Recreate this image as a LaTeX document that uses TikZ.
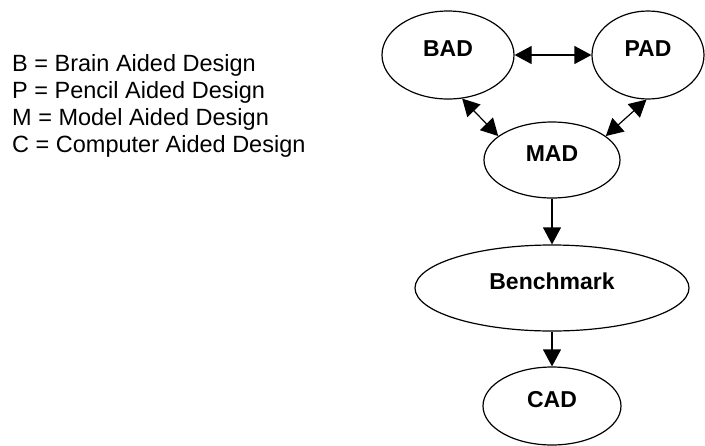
\documentclass[tikz,border=0pt]{standalone}
\usepackage{fontspec}
\setmainfont{Liberation Sans}
\usepackage{tikz}
\usetikzlibrary{shapes.geometric}
\usetikzlibrary{arrows.meta}

\begin{document}
\begin{tikzpicture}[x=1pt,y=-1pt,
	oval/.style={draw,ellipse,line width=1.2pt,inner sep=0pt,text height=17pt,text depth=15pt,font=\fontsize{23}{27}\selectfont\bfseries},
	legend/.style={anchor=west,inner sep=0pt,font=\fontsize{23.5}{27}\selectfont},
	>={Triangle[length=17pt,width=18pt]}]
	\useasboundingbox (0,0) rectangle (705,445);

	\node[oval,minimum width=132,minimum height=88] at (448,55) (bad) {BAD};
	\node[oval,minimum width=112,minimum height=88] at (648,55) (pad) {PAD};
	\node[oval,minimum width=136,minimum height=76] at (552,160) (mad) {MAD};
	\node[oval,minimum width=274,minimum height=86] at (552,288) (bench) {Benchmark};
	\node[oval,minimum width=138,minimum height=78] at (552,406) (cad) {CAD};

	\node[legend] at (12,65) (legb) {B = Brain Aided Design};
	\node[legend] at (12,92) (legp) {P = Pencil Aided Design};
	\node[legend] at (12,119) (legm) {M = Model Aided Design};
	\node[legend] at (12,146) (legc) {C = Computer Aided Design};

	\draw[<->,line width=1.2pt] (bad) -- (pad);
	\draw[<->,line width=1.2pt] (bad.-72) -- (mad.156);
	\draw[<->,line width=1.2pt] (pad.-92) -- (mad.24);
	\draw[->,line width=1.2pt] (mad) -- (bench);
	\draw[->,line width=1.2pt] (bench) -- (cad);
\end{tikzpicture}
\end{document}
